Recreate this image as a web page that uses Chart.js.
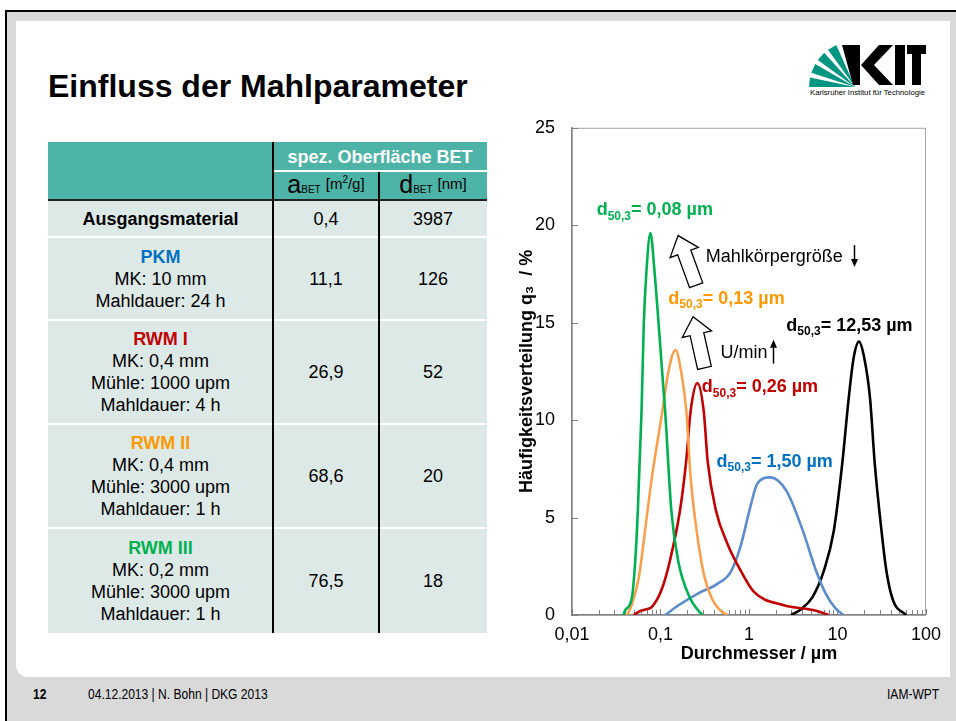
<!DOCTYPE html>
<html>
<head>
<meta charset="utf-8">
<script src="https://cdn.jsdelivr.net/npm/chart.js@4.4.1/dist/chart.umd.min.js"></script>
<style>
    html, body { margin: 0; padding: 0; background: #fff; }
    body { width: 956px; height: 721px; position: relative; overflow: hidden; font-family: 'Liberation Sans', Arial, sans-serif; color: #000; }
    #frame { position: absolute; left: 5px; top: 10px; width: 970px; height: 730px; border-left: 2.5px solid #000; border-top: 2.5px solid #000; background: #d9d9d9; }
    #sheet { position: absolute; left: 16px; top: 21px; width: 934px; height: 656px; background: #fff; border-bottom-left-radius: 12px; }
    #title { position: absolute; left: 48px; top: 70px; font-size: 32px; font-weight: bold; line-height: 1; white-space: nowrap; }
    .abs { position: absolute; }
    .cell { position: absolute; display: flex; align-items: center; justify-content: center; flex-direction: column; text-align: center; font-size: 18px; line-height: 22px; }
    .b { font-weight: bold; }
    .footer { position: absolute; top: 686px; font-size: 14px; line-height: 16px; white-space: nowrap; transform: scaleX(0.86); transform-origin: left center; }
    #chartBox { position: absolute; left: 490px; top: 100px; width: 460px; height: 570px; }
</style>
</head>
<body>
<div id="frame"></div>
<div id="sheet"></div>
<div id="title">Einfluss der Mahlparameter</div>

<svg id="logo" class="abs" style="left:800px;top:40px" width="140" height="60"></svg>

<div id="table"></div>

<div id="chartBox"><canvas id="chartPsd" width="460" height="570"></canvas></div>

<div class="footer b" style="left:33px">12</div>
<div class="footer" style="left:88px">04.12.2013 | N. Bohn | DKG 2013</div>
<div class="footer" style="left:887px">IAM-WPT</div>

<script>
(function () {
    'use strict';

    // particle size distributions q3 (%) over diameter (µm)
    var rwm3X = [0.038, 0.040, 0.0476, 0.0527, 0.0555, 0.0611, 0.0648, 0.0693, 0.0769, 0.0857, 0.095, 0.108, 0.1127, 0.1324, 0.158, 0.214, 0.264, 0.30];
    var rwm3Y = [0, 0.25, 0.9, 3.3, 5.4, 10.5, 15.0, 17.6, 19.6, 17.6, 15.0, 11.6, 10.5, 5.4, 2.8, 0.9, 0.26, 0];

    var rwm2X = [0.0419, 0.048, 0.057, 0.0676, 0.080, 0.105, 0.123, 0.148, 0.171, 0.196, 0.219, 0.253, 0.314, 0.388, 0.47, 0.57];
    var rwm2Y = [0, 0.6, 1.95, 4.5, 7.06, 10.46, 12.5, 13.6, 12.5, 10.46, 7.06, 4.5, 1.95, 0.77, 0.25, 0];

    var rwm1X = [0.050, 0.0585, 0.070, 0.080, 0.1026, 0.128, 0.166, 0.195, 0.219, 0.261, 0.308, 0.341, 0.423, 0.57, 0.80, 1.13, 2.43, 5.7, 7.94];
    var rwm1Y = [0, 0.2, 0.3, 0.42, 1.28, 2.8, 5.36, 7.9, 10.46, 11.9, 10.46, 7.9, 5.36, 3.66, 2.3, 1.2, 0.51, 0.22, 0];

    var pkmX = [0.113, 0.16, 0.264, 0.44, 0.62, 0.80, 1.03, 1.23, 1.73, 2.64, 4.05, 5.7, 7.36, 9.5, 11.7];
    var pkmY = [0, 0.5, 1.1, 1.6, 2.2, 3.5, 5.5, 6.7, 7.06, 6.38, 4.34, 2.3, 1.1, 0.34, 0];

    var rawX = [3.0, 3.88, 5.24, 7.05, 9.1, 11.3, 13.4, 15.2, 17.5, 20.1, 23.3, 26.4, 31.4, 35.6, 42.3, 59.4];
    var rawY = [0, 0.3, 0.93, 2.3, 4.34, 7.74, 11.14, 13.18, 14.03, 13.18, 11.14, 7.74, 4.34, 2.3, 0.77, 0];

    var d50Labels = ['0,08', '0,13', '0,26', '1,50', '12,53'];

    var xTickValues = [0.01, 0.1, 1, 10, 100];
    var xTickLabels = ['0,01', '0,1', '1', '10', '100'];
    var xMinorSteps = [1, 2, 3, 4, 5, 6, 7, 8, 9];
    var yTicks = [0, 5, 10, 15, 20, 25];

    // table
    var tableRows = [
        { name: 'Ausgangsmaterial', color: '#000', lines: [], a: '0,4', d: '3987' },
        { name: 'PKM', color: '#0070c0', lines: ['MK: 10 mm', 'Mahldauer: 24 h'], a: '11,1', d: '126' },
        { name: 'RWM I', color: '#c00000', lines: ['MK: 0,4 mm', 'Mühle: 1000 upm', 'Mahldauer: 4 h'], a: '26,9', d: '52' },
        { name: 'RWM II', color: '#ff9900', lines: ['MK: 0,4 mm', 'Mühle: 3000 upm', 'Mahldauer: 1 h'], a: '68,6', d: '20' },
        { name: 'RWM III', color: '#00b050', lines: ['MK: 0,2 mm', 'Mühle: 3000 upm', 'Mahldauer: 1 h'], a: '76,5', d: '18' }
    ];
    var rowEdges = [200, 237, 320, 424, 528, 633];

    var tbl = document.getElementById('table'), html = '';
    var box = function (l, t, w, h, css, inner) {
        return '<div class="cell" style="left:' + l + 'px;top:' + t + 'px;width:' + w + 'px;height:' + h + 'px;' + (css || '') + '">' + (inner || '') + '</div>';
    };
    html += box(48, 142, 439, 58, 'background:#4db3a6');
    html += box(273, 142, 214, 29, 'color:#fff;font-weight:bold', 'spez. Oberfläche BET');
    html += box(273, 171, 106, 29, 'flex-direction:row;align-items:baseline;padding-top:2px;box-sizing:border-box',
        '<span style="font-size:25px">a</span><span style="font-size:10px">BET</span>&nbsp;<span style="font-size:15px;position:relative;top:-4px">[m<sup style="font-size:10px">2</sup>/g]</span>');
    html += box(379, 171, 108, 29, 'flex-direction:row;align-items:baseline;padding-top:2px;box-sizing:border-box',
        '<span style="font-size:25px">d</span><span style="font-size:10px">BET</span>&nbsp;<span style="font-size:15px;position:relative;top:-4px">[nm]</span>');
    tableRows.forEach(function (r, i) {
        var t = rowEdges[i], h = rowEdges[i + 1] - t;
        html += box(48, t, 439, h, 'background:#dde9e7');
        var first = '<span class="b" style="color:' + r.color + '">' + r.name + '</span>';
        html += box(48, t, 225, h, '', first + r.lines.map(function (s) { return '<span>' + s + '</span>'; }).join(''));
        html += box(273, t, 106, h, '', r.a);
        html += box(379, t, 108, h, '', r.d);
        if (i > 0) html += '<div class="abs" style="left:48px;top:' + (t - 1) + 'px;width:439px;height:2px;background:#fff"></div>';
    });
    html += '<div class="abs" style="left:273px;top:170px;width:214px;height:2px;background:#fff"></div>';
    html += '<div class="abs" style="left:48px;top:199px;width:439px;height:2px;background:#222"></div>';
    html += '<div class="abs" style="left:272px;top:142px;width:1.5px;height:491px;background:#000"></div>';
    html += '<div class="abs" style="left:378px;top:172px;width:1.5px;height:461px;background:#000"></div>';
    tbl.innerHTML = html;

    // KIT logo
    var svg = document.getElementById('logo'), s = '';
    var px = 55, py = 47, rad = 46;
    [[180, 168], [162, 150], [144, 132], [126, 114]].forEach(function (w) {
        var a1 = w[0] * Math.PI / 180, a2 = w[1] * Math.PI / 180;
        s += '<polygon fill="#009682" points="' + px + ',' + py + ' ' + (px + rad * Math.cos(a1)).toFixed(1) + ',' + (py - rad * Math.sin(a1)).toFixed(1) + ' ' +
            (px + rad * Math.cos(a2)).toFixed(1) + ',' + (py - rad * Math.sin(a2)).toFixed(1) + '"/>';
    });
    s += '<polygon fill="#000" points="42,5 60,5 60,45 53,45"/>';
    s += '<polygon fill="#000" points="79,5 93,5 74,25 93,45 79,45 61,25"/>';
    s += '<rect fill="#000" x="95" y="5" width="10" height="40"/>';
    s += '<rect fill="#000" x="107" y="5" width="19" height="9"/><rect fill="#000" x="112" y="5" width="9" height="40"/>';
    s += '<text x="10" y="55" font-size="7" font-family="Liberation Sans, sans-serif" textLength="115" lengthAdjust="spacingAndGlyphs">Karlsruher Institut für Technologie</text>';
    svg.innerHTML = s;

    // chart annotations (placed in data units)
    var d50Marks = [
        { x: 0.019, y: 20.77, color: '#00b050' },
        { x: 0.1227, y: 16.22, color: '#ff9900' },
        { x: 0.293, y: 11.68, color: '#c00000' },
        { x: 0.43, y: 7.86, color: '#0070c0' },
        { x: 2.64, y: 14.85, color: '#000' }
    ];
    var notes = [
        { text: 'Mahlkörpergröße', x: 0.324, y: 18.37, arrow: { x: 15.5, from: 18.98, to: 17.86 } },
        { text: 'U/min', x: 0.476, y: 13.42, arrow: { x: 1.85, from: 12.9, to: 14.13 } }
    ];
    var blockArrows = [
        { from: [0.253, 16.92], to: [0.158, 19.47] },
        { from: [0.314, 12.68], to: [0.233, 15.31] }
    ];

    var FONT = "'Liberation Sans', Arial, sans-serif";
    Chart.defaults.font.family = FONT;
    Chart.defaults.font.size = 18;
    Chart.defaults.color = '#000';

    var series = [
        { label: 'RWM III', xs: rwm3X, ys: rwm3Y, color: '#00b050' },
        { label: 'RWM II', xs: rwm2X, ys: rwm2Y, color: '#f9a04f' },
        { label: 'RWM I', xs: rwm1X, ys: rwm1Y, color: '#c00000' },
        { label: 'PKM', xs: pkmX, ys: pkmY, color: '#5b8ccb' },
        { label: 'Ausgangsmaterial', xs: rawX, ys: rawY, color: '#000' }
    ];

    var isMajor = function (v) {
        return xTickValues.some(function (t) { return Math.abs(v / t - 1) < 1e-6; });
    };

    var plotDecor = {
        id: 'plotDecor',
        beforeDatasetsDraw: function (chart) {
            var ctx = chart.ctx, a = chart.chartArea, x = chart.scales.x, y = chart.scales.y;
            ctx.save();
            ctx.strokeStyle = '#a6a6a6';
            ctx.lineWidth = 1;
            ctx.strokeRect(a.left + 0.5, a.top + 0.5, a.right - a.left - 1, a.bottom - a.top);
            ctx.strokeStyle = '#808080';
            ctx.beginPath();
            x.ticks.forEach(function (t) {
                var p = Math.round(x.getPixelForValue(t.value)) + 0.5;
                ctx.moveTo(p, a.bottom);
                ctx.lineTo(p, a.bottom - (isMajor(t.value) ? 6 : 5));
            });
            y.ticks.forEach(function (t) {
                var p = Math.round(y.getPixelForValue(t.value)) + 0.5;
                ctx.moveTo(a.left, p);
                ctx.lineTo(a.left + 6, p);
            });
            ctx.stroke();
            ctx.restore();
        },
        afterDatasetsDraw: function (chart) {
            var ctx = chart.ctx, x = chart.scales.x, y = chart.scales.y;
            ctx.save();
            ctx.textBaseline = 'middle';
            ctx.textAlign = 'left';

            d50Marks.forEach(function (m, i) {
                var cx = x.getPixelForValue(m.x), cy = y.getPixelForValue(m.y);
                ctx.fillStyle = m.color;
                ctx.font = 'bold 18px ' + FONT;
                ctx.fillText('d', cx, cy);
                cx += ctx.measureText('d').width;
                ctx.font = 'bold 12px ' + FONT;
                ctx.fillText('50,3', cx, cy + 6);
                cx += ctx.measureText('50,3').width;
                ctx.font = 'bold 18px ' + FONT;
                ctx.fillText('= ' + d50Labels[i] + ' µm', cx, cy);
            });

            ctx.fillStyle = '#000';
            ctx.strokeStyle = '#000';
            ctx.font = '18px ' + FONT;
            notes.forEach(function (n) {
                ctx.fillText(n.text, x.getPixelForValue(n.x), y.getPixelForValue(n.y));
                var ax = Math.round(x.getPixelForValue(n.arrow.x)) + 0.5;
                var y1 = y.getPixelForValue(n.arrow.from), y2 = y.getPixelForValue(n.arrow.to);
                var dir = y2 > y1 ? 1 : -1;
                ctx.lineWidth = 1.5;
                ctx.beginPath();
                ctx.moveTo(ax, y1);
                ctx.lineTo(ax, y2 - dir * 5);
                ctx.stroke();
                ctx.beginPath();
                ctx.moveTo(ax, y2);
                ctx.lineTo(ax - 3.5, y2 - dir * 8);
                ctx.lineTo(ax + 3.5, y2 - dir * 8);
                ctx.closePath();
                ctx.fill();
            });

            // hollow block arrows
            blockArrows.forEach(function (b) {
                var bx = x.getPixelForValue(b.from[0]), by = y.getPixelForValue(b.from[1]);
                var tx = x.getPixelForValue(b.to[0]), ty = y.getPixelForValue(b.to[1]);
                var len = Math.hypot(tx - bx, ty - by);
                var ux = (tx - bx) / len, uy = (ty - by) / len, nx = -uy, ny = ux;
                var sw = 7, hw = 15, hl = 18;
                var nkx = tx - ux * hl, nky = ty - uy * hl;
                ctx.beginPath();
                ctx.moveTo(bx + nx * sw, by + ny * sw);
                ctx.lineTo(nkx + nx * sw, nky + ny * sw);
                ctx.lineTo(nkx + nx * hw, nky + ny * hw);
                ctx.lineTo(tx, ty);
                ctx.lineTo(nkx - nx * hw, nky - ny * hw);
                ctx.lineTo(nkx - nx * sw, nky - ny * sw);
                ctx.lineTo(bx - nx * sw, by - ny * sw);
                ctx.closePath();
                ctx.fillStyle = '#fff';
                ctx.fill();
                ctx.lineWidth = 1.3;
                ctx.stroke();
            });
            ctx.restore();
        }
    };

    new Chart(document.getElementById('chartPsd'), {
        type: 'line',
        data: {
            datasets: series.map(function (s) {
                return {
                    label: s.label,
                    data: s.xs.map(function (v, i) { return { x: v, y: s.ys[i] }; }),
                    borderColor: s.color,
                    borderWidth: 2.6,
                    pointRadius: 0,
                    fill: false,
                    cubicInterpolationMode: 'monotone'
                };
            })
        },
        options: {
            responsive: false,
            animation: false,
            devicePixelRatio: 1,
            layout: { padding: { top: 25, right: 18, left: 0, bottom: 0 } },
            plugins: { legend: { display: false }, tooltip: { enabled: false } },
            scales: {
                x: {
                    type: 'logarithmic',
                    min: 0.01,
                    max: 100,
                    afterBuildTicks: function (scale) {
                        var t = [];
                        xTickValues.slice(0, -1).forEach(function (d) {
                            xMinorSteps.forEach(function (m) { t.push({ value: +(d * m).toPrecision(4) }); });
                        });
                        t.push({ value: 100 });
                        scale.ticks = t;
                    },
                    afterFit: function (scale) { scale.height = 55; },
                    grid: { display: true, drawOnChartArea: false, drawTicks: false },
                    border: { display: true, color: '#808080', width: 1.5 },
                    ticks: {
                        autoSkip: false,
                        maxRotation: 0,
                        padding: 9,
                        color: '#000',
                        callback: function (v) {
                            var i = xTickValues.findIndex(function (t) { return Math.abs(v / t - 1) < 1e-6; });
                            return i < 0 ? '' : xTickLabels[i];
                        }
                    },
                    title: {
                        display: true,
                        text: '    Durchmesser / µm',
                        color: '#000',
                        font: { size: 18, weight: 'bold' },
                        padding: { top: 0, bottom: 5 }
                    }
                },
                y: {
                    min: 0,
                    max: 25,
                    afterBuildTicks: function (scale) {
                        scale.ticks = yTicks.map(function (v) { return { value: v }; });
                    },
                    afterFit: function (scale) { scale.width = 82; },
                    grid: { display: true, drawOnChartArea: false, drawTicks: false },
                    border: { display: true, color: '#808080', width: 1.5 },
                    ticks: { padding: 17, color: '#000' },
                    title: {
                        display: true,
                        text: 'Häufigkeitsverteilung q₃  / %',
                        color: '#000',
                        font: { size: 18, weight: 'bold' },
                        padding: { top: 26, bottom: 0 }
                    }
                }
            }
        },
        plugins: [plotDecor]
    });
})();
</script>
</body>
</html>
